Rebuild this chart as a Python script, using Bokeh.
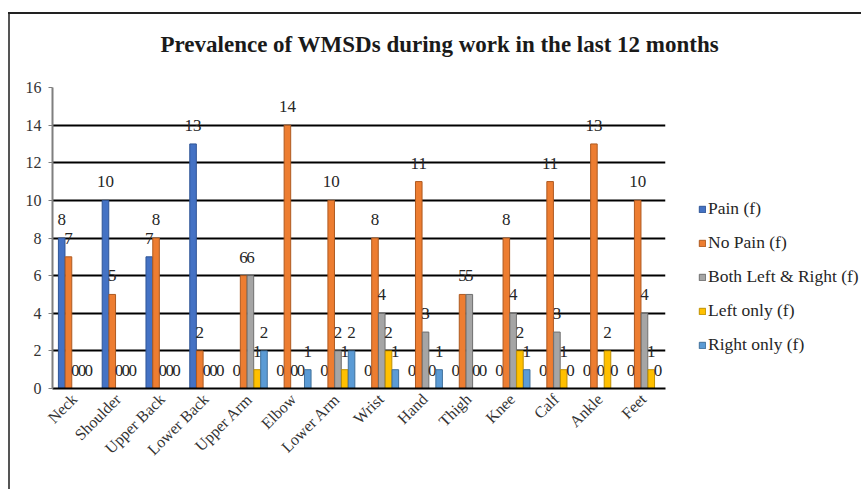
import math
from bokeh.plotting import figure
from bokeh.models import (ColumnDataSource, Legend, LegendItem, Title,
                          FixedTicker, Range1d, FactorRange)
from bokeh.transform import dodge
from bokeh.core.properties import value
from bokeh.embed import file_html
from bokeh.resources import INLINE

# ---------------- data ----------------
categories = ["Neck", "Shoulder", "Upper Back", "Lower Back", "Upper Arm", "Elbow",
              "Lower Arm", "Wrist", "Hand", "Thigh", "Knee", "Calf", "Ankle", "Feet"]
pain = [8, 10, 7, 13, 0, 0, 0, 0, 0, 0, 0, 0, 0, 0]
no_pain = [7, 5, 8, 2, 6, 14, 10, 8, 11, 5, 8, 11, 13, 10]
both_left_right = [0, 0, 0, 0, 6, 0, 2, 4, 3, 5, 4, 3, 0, 4]
left_only = [0, 0, 0, 0, 1, 0, 1, 2, 0, 0, 2, 1, 2, 1]
right_only = [0, 0, 0, 0, 2, 1, 2, 1, 1, 0, 1, 0, 0, 0]
series_names = ["Pain (f)", "No Pain (f)", "Both Left & Right (f)", "Left only (f)", "Right only (f)"]
y_ticks = [0, 2, 4, 6, 8, 10, 12, 14, 16]
title_text = "Prevalence of WMSDs during work in the last 12 months"

# ---------------- styling ----------------
fills = ["#4472C4", "#ED7D31", "#A5A5A5", "#FFC000", "#5B9BD5"]
lines = ["#2F5597", "#AE5A21", "#6F6F6F", "#BF9000", "#41719C"]
offsets = [-0.29, -0.135, 0.02, 0.175, 0.33]
bar_w = 0.15
FONT = "Liberation Serif"

keys = ["pain", "no_pain", "both", "left", "right"]
series = [pain, no_pain, both_left_right, left_only, right_only]
data = {"cat": categories}
for k, s in zip(keys, series):
    data[k] = s
    data[k + "_lbl"] = [str(v) for v in s]
source = ColumnDataSource(data)

# outer chart border painted as a CSS background behind a transparent canvas
border_css = ("linear-gradient(#222222, #222222) 8px 12px / 100% 2px no-repeat, "
              "linear-gradient(#555555, #555555) 8px 12px / 2px 100% no-repeat, white")

p = figure(width=861, height=489, frame_width=613, frame_height=301,
           x_range=FactorRange(*categories), y_range=Range1d(0, 16),
           output_backend="svg", toolbar_location=None,
           min_border_left=52, min_border_right=196, min_border_top=87, min_border_bottom=101,
           styles={"background": border_css})
p.outline_line_color = None
p.background_fill_color = "white"
p.border_fill_color = None

renderers = []
for k, off, fc, lc in zip(keys, offsets, fills, lines):
    r = p.vbar(x=dodge("cat", off, range=p.x_range), top=k, width=bar_w, source=source,
               fill_color=fc, line_color=lc, line_width=1)
    renderers.append(r)
    p.text(x=dodge("cat", off, range=p.x_range), y=k, text=k + "_lbl", source=source,
           text_align="center", text_baseline="bottom", y_offset=-13,
           text_font=value(FONT), text_font_size="17px", text_color="#262626")

# grid
p.xgrid.visible = False
p.ygrid.ticker = FixedTicker(ticks=y_ticks)
p.ygrid.grid_line_color = "black"
p.ygrid.grid_line_width = 1.8

# y axis
p.yaxis.ticker = FixedTicker(ticks=y_ticks)
p.yaxis.axis_line_color = "#7f7f7f"
p.yaxis.axis_line_width = 2
p.yaxis.major_tick_out = 4
p.yaxis.major_tick_in = 0
p.yaxis.major_tick_line_color = "#7f7f7f"
p.yaxis.minor_tick_line_color = None
p.yaxis.major_label_text_font = FONT
p.yaxis.major_label_text_font_size = "16px"
p.yaxis.major_label_text_color = "#333333"
p.yaxis.major_label_standoff = 7

# x axis
p.xaxis.axis_line_color = "black"
p.xaxis.axis_line_width = 2
p.xaxis.major_tick_out = 0
p.xaxis.major_tick_in = 0
p.xaxis.major_label_orientation = math.pi / 4
p.xaxis.major_label_text_font = FONT
p.xaxis.major_label_text_font_size = "16px"
p.xaxis.major_label_text_color = "#333333"
p.xaxis.major_label_standoff = 8

# legend in the right side panel
items = [LegendItem(label=n, renderers=[r]) for n, r in zip(series_names, renderers)]
legend = Legend(items=items, location="bottom_left", orientation="vertical",
                label_text_font=FONT, label_text_font_size="17.5px", label_text_color="#262626",
                glyph_width=8, glyph_height=8, label_height=20, spacing=13,
                label_standoff=2, padding=0, margin=33,
                border_line_color=None, background_fill_alpha=0)
p.add_layout(legend, "right")

# title
p.title = Title(text=title_text, align="left", offset=160 - 52, vertical_align="top",
                text_font=FONT, text_font_style="bold", text_font_size="23px",
                text_color="#1a1a1a", standoff=57)

open("out.html", "w").write(file_html(p, INLINE))
